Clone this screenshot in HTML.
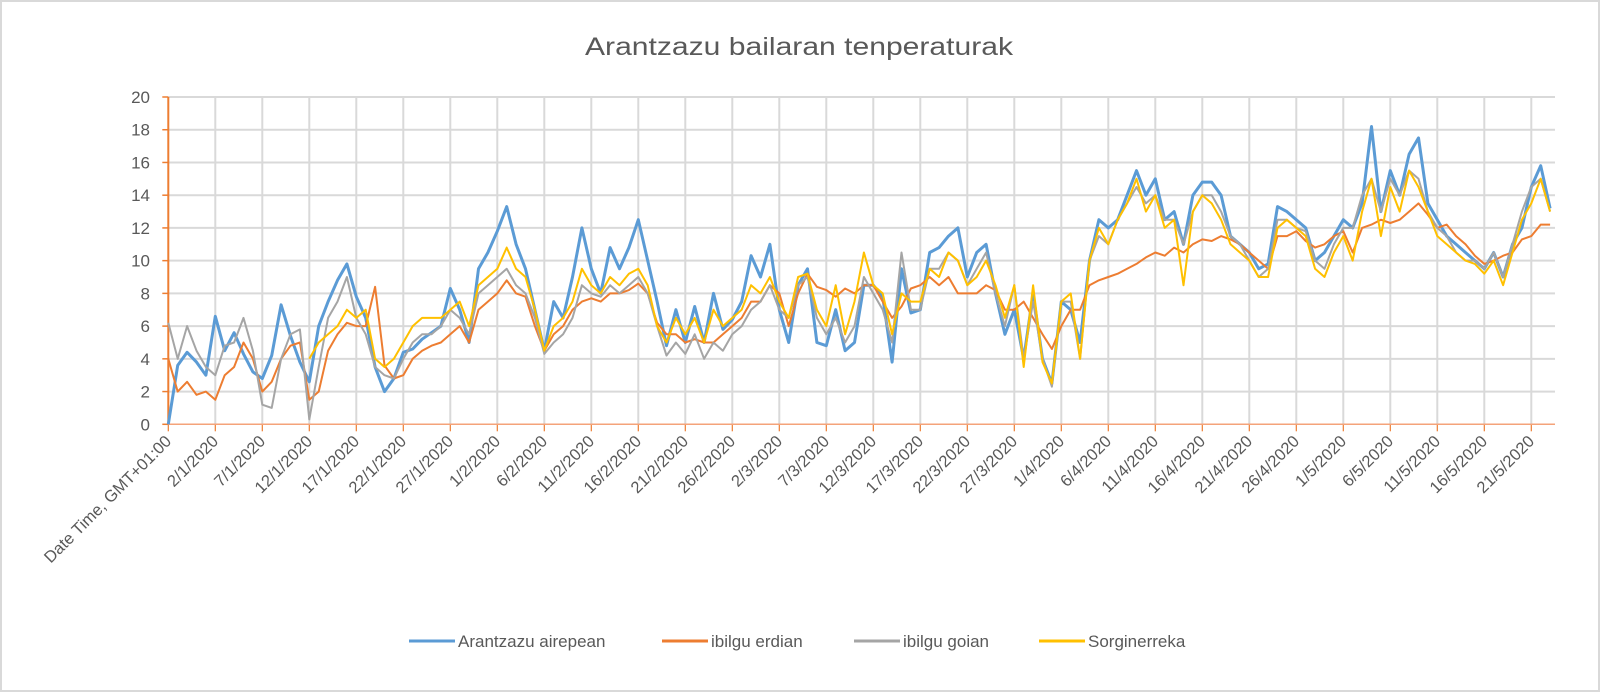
<!DOCTYPE html>
<html><head><meta charset="utf-8"><style>
html,body{margin:0;padding:0;background:#fff;}
#wrap{position:relative;width:1600px;height:692px;overflow:hidden;box-sizing:border-box;border:2px solid #d9d9d9;}
svg text{font-family:"Liberation Sans",sans-serif;}
</style></head><body>
<div id="wrap">
<svg id="chart" width="1600" height="692" style="position:absolute;left:-2px;top:-2px">
<text x="799" y="55" text-anchor="middle" font-size="25" fill="#595959" textLength="428" lengthAdjust="spacingAndGlyphs">Arantzazu bailaran tenperaturak</text>
<g id="grid"></g>
<g id="axes"></g>
<g id="series"></g>
<g id="legend"></g>
</svg>
</div>
<script>
const xLabels=["Date Time, GMT+01:00","2/1/2020","7/1/2020","12/1/2020","17/1/2020","22/1/2020","27/1/2020","1/2/2020","6/2/2020","11/2/2020","16/2/2020","21/2/2020","26/2/2020","2/3/2020","7/3/2020","12/3/2020","17/3/2020","22/3/2020","27/3/2020","1/4/2020","6/4/2020","11/4/2020","16/4/2020","21/4/2020","26/4/2020","1/5/2020","6/5/2020","11/5/2020","16/5/2020","21/5/2020"];
const yTicks=[0,2,4,6,8,10,12,14,16,18,20];
const seriesNames=["Arantzazu airepean","ibilgu erdian","ibilgu goian","Sorginerreka"];
const airepean=[0,3.6,4.4,3.8,3.0,6.6,4.5,5.6,4.3,3.2,2.8,4.2,7.3,5.4,3.8,2.6,6.0,7.5,8.8,9.8,7.8,6.5,3.5,2.0,2.8,4.4,4.6,5.2,5.6,6.0,8.3,7.0,5.0,9.5,10.5,11.8,13.3,11.0,9.5,7.0,4.5,7.5,6.5,9.0,12.0,9.5,8.0,10.8,9.5,10.8,12.5,10.0,7.5,4.8,7.0,5.0,7.2,5.0,8.0,5.8,6.4,7.5,10.3,9.0,11.0,7.0,5.0,8.5,9.5,5.0,4.8,7.0,4.5,5.0,8.5,8.5,7.8,3.8,9.5,6.8,7.0,10.5,10.8,11.5,12.0,9.0,10.5,11.0,8.0,5.5,7.0,4.0,8.0,4.0,2.5,7.5,7.0,5.0,10.0,12.5,12.0,12.5,14.0,15.5,14.0,15.0,12.5,13.0,11.0,14.0,14.8,14.8,14.0,11.5,11.0,10.5,9.5,9.8,13.3,13.0,12.5,12.0,10.0,10.5,11.5,12.5,12.0,13.5,18.2,13.0,15.5,14.0,16.5,17.5,13.5,12.5,11.5,11.0,10.5,10.0,9.5,10.5,9.0,11.0,12.0,14.5,15.8,13.2];
const erdian=[4.0,2.0,2.6,1.8,2.0,1.5,3.0,3.5,5.0,4.0,2.0,2.6,4.0,4.8,5.0,1.5,2.0,4.5,5.5,6.2,6.0,6.0,8.4,3.6,2.8,3.0,4.0,4.5,4.8,5.0,5.5,6.0,5.0,7.0,7.5,8.0,8.8,8.0,7.8,6.0,4.5,5.5,6.0,7.0,7.5,7.7,7.5,8.0,8.0,8.2,8.6,8.0,6.2,5.5,5.5,5.0,5.2,5.0,5.0,5.5,6.0,6.5,7.5,7.5,8.5,8.0,6.0,8.0,9.2,8.4,8.2,7.8,8.3,8.0,8.5,8.5,7.5,6.5,7.2,8.3,8.5,9.0,8.5,9.0,8.0,8.0,8.0,8.5,8.2,7.0,7.0,7.5,6.5,5.5,4.6,6.0,7.0,7.0,8.5,8.8,9.0,9.2,9.5,9.8,10.2,10.5,10.3,10.8,10.5,11.0,11.3,11.2,11.5,11.3,11.0,10.5,10.0,9.5,11.5,11.5,11.8,11.2,10.8,11.0,11.5,11.8,10.5,12.0,12.2,12.5,12.3,12.5,13.0,13.5,12.8,12.0,12.2,11.5,11.0,10.3,9.8,10.0,10.3,10.5,11.3,11.5,12.2,12.2];
const goian=[6.2,4.0,6.0,4.5,3.5,3.0,4.8,5.0,6.5,4.5,1.2,1.0,4.0,5.5,5.8,0.3,3.5,6.5,7.5,9.0,6.5,5.5,3.5,3.0,2.8,4.0,5.0,5.5,5.5,6.0,7.0,6.5,5.5,8.0,8.5,9.0,9.5,8.5,8.0,6.5,4.3,5.0,5.5,6.5,8.5,8.0,7.8,8.5,8.0,8.5,9.0,8.0,6.0,4.2,5.0,4.3,5.5,4.0,5.0,4.5,5.5,6.0,7.0,7.5,8.5,7.0,6.5,8.5,9.0,6.5,5.5,6.5,5.0,6.0,9.0,8.0,7.0,5.0,10.5,7.0,7.0,9.5,9.5,10.5,10.0,8.5,9.5,10.5,8.0,6.0,8.5,4.0,7.5,4.0,2.3,7.5,7.5,4.0,10.0,11.5,11.0,12.5,13.5,14.5,13.5,14.0,12.5,12.5,11.0,13.0,14.0,14.0,13.0,11.5,11.0,10.0,9.0,9.5,12.5,12.5,12.0,11.8,10.0,9.5,11.0,12.0,12.0,14.0,15.0,13.0,15.0,14.0,15.5,15.0,13.0,12.0,11.5,10.5,10.0,10.0,9.5,10.5,9.0,11.0,13.0,14.5,15.0,13.0];
const sorginerreka=[null,null,null,null,null,null,null,null,null,null,null,null,null,null,null,4.0,5.0,5.5,6.0,7.0,6.5,7.0,4.0,3.5,4.0,5.0,6.0,6.5,6.5,6.5,7.0,7.5,6.0,8.5,9.0,9.5,10.8,9.5,9.0,7.0,4.5,6.0,6.5,7.5,9.5,8.5,8.0,9.0,8.5,9.2,9.5,8.5,6.0,5.0,6.5,5.5,6.5,5.0,7.0,6.0,6.5,7.0,8.5,8.0,9.0,7.5,6.5,9.0,9.2,7.0,6.0,8.5,5.5,7.5,10.5,8.5,8.0,5.5,8.0,7.5,7.5,9.5,9.0,10.5,10.0,8.5,9.0,10.0,8.5,6.5,8.5,3.5,8.5,3.8,2.5,7.5,8.0,4.0,10.0,12.0,11.0,12.5,13.5,15.0,13.0,14.0,12.0,12.5,8.5,13.0,14.0,13.5,12.5,11.0,10.5,10.0,9.0,9.0,12.0,12.5,12.0,11.5,9.5,9.0,10.5,11.5,10.0,13.0,15.0,11.5,14.5,13.0,15.5,14.5,13.0,11.5,11.0,10.5,10.0,9.8,9.2,10.0,8.5,10.5,12.5,13.5,15.0,13.0];

const NS="http://www.w3.org/2000/svg";
const X0=168.3,PXDAY=9.4,DAYS_PER_LABEL=5,XR=1555,Y0=424.3,YT=97,YMAX=20;
function xScale(d){return X0+d*PXDAY;}
function yScale(v){return Y0-(v/YMAX)*(Y0-YT);}
function mk(tag,attrs,parent){const e=document.createElementNS(NS,tag);for(const k in attrs)e.setAttribute(k,attrs[k]);parent.appendChild(e);return e;}
const grid=document.getElementById('grid'),axes=document.getElementById('axes'),ser=document.getElementById('series'),leg=document.getElementById('legend');
yTicks.forEach(v=>{
  const y=yScale(v);
  if(v>0){const l=mk('line',{x1:X0,x2:XR,y1:y,y2:y,stroke:'#d9d9d9','stroke-width':2},grid);
  
  }
  const tk=mk('line',{x1:X0-6,x2:X0,y1:y,y2:y,stroke:'#ED7D31','stroke-width':1.5},axes);
  
  
  const t=mk('text',{x:150,y:y+6,'text-anchor':'end','font-size':17,fill:'#595959'},axes);
  t.textContent=v;
  
  
});
xLabels.forEach((lab,i)=>{
  const x=xScale(i*DAYS_PER_LABEL);
  if(i>0){const g=mk('line',{x1:x,x2:x,y1:YT,y2:Y0,stroke:'#d9d9d9','stroke-width':2},grid);
  
  }
  const tk=mk('line',{x1:x,x2:x,y1:Y0,y2:Y0+7,stroke:'#ED7D31','stroke-width':1.2},axes);
  
  
  const t=mk('text',{x:x+4,y:Y0+18,'text-anchor':'end','font-size':16.5,fill:'#595959',transform:`rotate(-45 ${x+4} ${Y0+18})`},axes);
  t.textContent=lab;
  
  
});
const xa=mk('line',{x1:X0,x2:XR,y1:Y0,y2:Y0,stroke:'#F4A37A','stroke-width':1.5},axes);


const ya=mk('line',{x1:X0,x2:X0,y1:YT,y2:Y0,stroke:'#ED7D31','stroke-width':2},axes);


const allSeries=[airepean,erdian,goian,sorginerreka];
const colors=['#5B9BD5','#ED7D31','#A5A5A5','#FFC000'];
const widths=[3,2,2,2];
const snames=['series-arantzazu-airepean','series-ibilgu-erdian','series-ibilgu-goian','series-sorginerreka'];
allSeries.forEach((arr,si)=>{
  let d='',pen=false;
  arr.forEach((v,i)=>{if(v===null){pen=false;return;}d+=(pen?'L':'M')+xScale(i).toFixed(1)+' '+yScale(v).toFixed(1);pen=true;});
  const p=mk('path',{d:d,fill:'none',stroke:colors[si],'stroke-width':widths[si],'stroke-linejoin':'round'},ser);
  
  
});
const legX=[409,662,854,1039];
seriesNames.forEach((n,i)=>{
  const g=mk('g',{},leg);
  
  
  mk('line',{x1:legX[i],x2:legX[i]+46,y1:641,y2:641,stroke:colors[i],'stroke-width':3},g);
  const t=mk('text',{x:legX[i]+49,y:647,'font-size':17,fill:'#595959'},g);
  t.textContent=n;
});
</script>
</body></html>
